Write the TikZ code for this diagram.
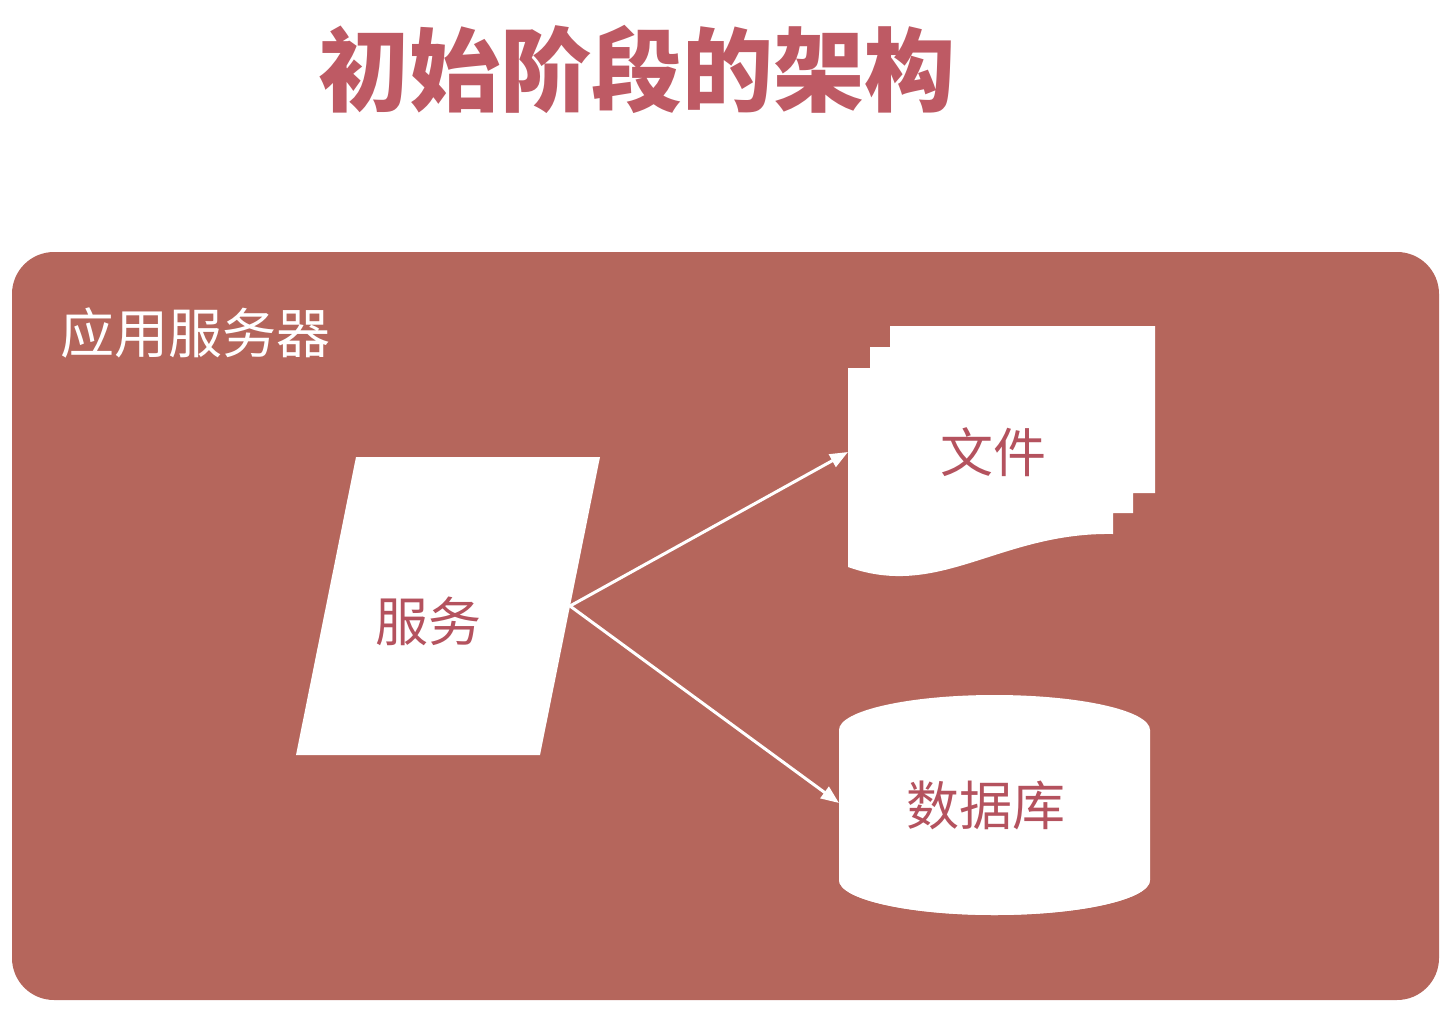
\documentclass[tikz,border=0pt]{standalone}
\usepackage{fontspec}
\setmainfont{Noto Sans CJK SC}
\usetikzlibrary{arrows.meta}
\definecolor{boxred}{RGB}{181,102,92}
\definecolor{titlered}{RGB}{190,90,100}
\definecolor{labelred}{RGB}{180,82,94}
\begin{document}
\begin{tikzpicture}[x=0.5pt,y=-0.5pt,
  shapefill/.style={fill=white, draw=none},
  lbl/.style={text=labelred, font=\fontsize{26.5pt}{30pt}\selectfont, inner sep=0pt},
  conn/.style={draw=white, line width=1.5pt, -{Triangle[length=9pt,width=7pt]}}]
\useasboundingbox (0,0) rectangle (1446,1012);
% title
\node[font=\fontsize{45.5pt}{50pt}\selectfont\bfseries, text=titlered, inner sep=0pt] (title) at (637,69) {初始阶段的架构};
% application server container
\fill[boxred, rounded corners=21pt] (12,252) rectangle (1439,1000);
\node[text=white, anchor=west, font=\fontsize{27pt}{30pt}\selectfont, inner sep=0pt] (server) at (60,333) {应用服务器};
% service parallelogram
\fill[shapefill] (356,457) -- (600,457) -- (540,755) -- (296,755) -- cycle;
\node[lbl] (svc) at (428,621) {服务};
\coordinate (svcE) at (570,606);
% documents
\fill[shapefill] (848,368) -- (870,368) -- (870,347) -- (890,347) -- (890,326) -- (1155,326)
  -- (1155,493) -- (1133,493) -- (1133,513) -- (1113,513) -- (1113,534)
  .. controls (1000,532) and (940,600) .. (848,567) -- cycle;
\node[lbl] (doc) at (993,452) {文件};
\coordinate (docW) at (848,452);
% database cylinder
\fill[shapefill] (839,730) arc[start angle=180, end angle=360, x radius=155.5, y radius=-35]
  -- (1150,880) arc[start angle=0, end angle=-180, x radius=155.5, y radius=-35] -- cycle;
\fill[shapefill] (994.5,730) ellipse[x radius=155.5, y radius=35];
\fill[shapefill] (994.5,880) ellipse[x radius=155.5, y radius=35];
\fill[shapefill] (839,730) rectangle (1150,880);
\node[lbl] (db) at (986,805) {数据库};
\coordinate (dbW) at (839,803);
% connectors
\draw[conn] (svcE) -- (docW);
\draw[conn] (svcE) -- (dbW);
\end{tikzpicture}
\end{document}
